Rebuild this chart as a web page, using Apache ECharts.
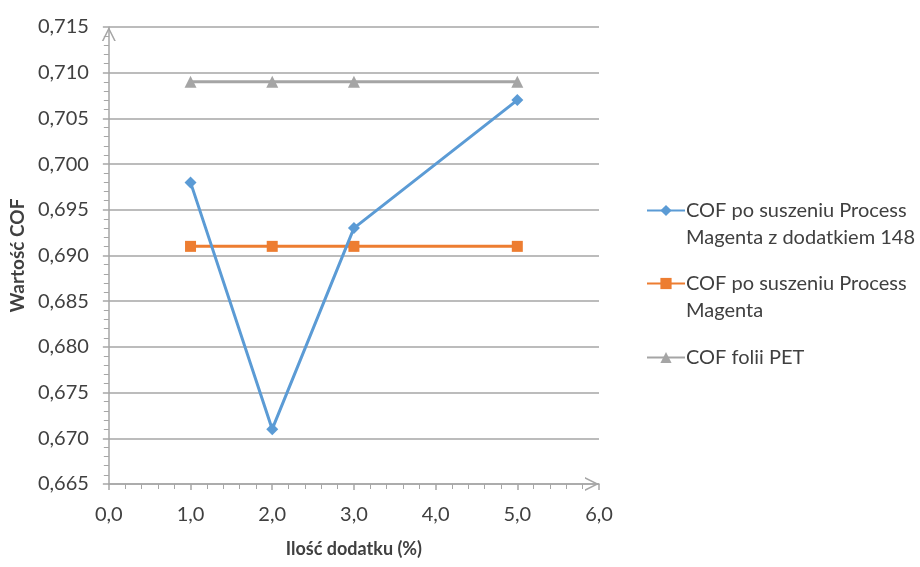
<!DOCTYPE html>
<html>
<head>
<meta charset="utf-8">
<script src="https://cdn.jsdelivr.net/npm/echarts@6/dist/echarts.min.js"></script>
<style>
  html, body { margin: 0; padding: 0; background: #fff; }
  #chart { width: 920px; height: 567px; }
</style>
</head>
<body>
<div id="chart"></div>
<script>
// Additive amount (%) at which COF was measured
const additive = [1, 2, 3, 5];

// COF values per series
const cofWithAdditive = [0.698, 0.671, 0.693, 0.707];
const cofProcessMagenta = [0.691, 0.691, 0.691, 0.691];
const cofPetFilm = [0.709, 0.709, 0.709, 0.709];

const seriesNames = [
  'COF po suszeniu Process Magenta z dodatkiem 148',
  'COF po suszeniu Process Magenta',
  'COF folii PET'
];
// Legend labels, broken over lines
const legendLabels = [
  ['COF po suszeniu Process', 'Magenta z dodatkiem 148'],
  ['COF po suszeniu Process', 'Magenta'],
  ['COF folii PET']
];

const FONT = 'Lato';
const AXIS_GREY = '#a6a6a6';
const TEXT = '#404040';
// open chevron pointing up; rotated by the axis
const chevron = 'path://M5,0 L10,10 L8.8,10 L5,2.4 L1.2,10 L0,10 Z';

const pair = (ys) => additive.map((x, i) => [x, ys[i]]);
const fmt = (v, d) => v.toFixed(d).replace('.', ',');

const colors = ['#5b9bd5', '#ed7d31', '#a5a5a5'];
const symbols = ['diamond', 'rect', 'triangle'];
const symbolSizes = [12, 11, 12];
const values = [cofWithAdditive, cofProcessMagenta, cofPetFilm];

// One legend per series; a blank leading line keeps the first text line level with the icon
function legendAt(i, top) {
  const lines = legendLabels[i];
  const text = lines.length > 1 ? '\n' + lines.join('\n') : lines[0];
  return {
    orient: 'vertical',
    left: 646,
    top: top,
    padding: 0,
    itemWidth: 38,
    itemHeight: 14,
    itemGap: 0,
    selectedMode: false,
    data: [{ name: seriesNames[i] }],
    formatter: () => text,
    textStyle: {
      fontFamily: FONT,
      fontSize: 20,
      color: TEXT,
      lineHeight: 27,
      padding: [0, 0, 0, -4]
    }
  };
}

const chart = echarts.init(document.getElementById('chart'));
chart.setOption({
  animation: false,
  color: colors,
  grid: { left: 107, right: 321, top: 27, bottom: 83, containLabel: false },
  legend: [legendAt(0, 170), legendAt(1, 243), legendAt(2, 344)],
  xAxis: {
    type: 'value',
    min: 0,
    max: 6,
    interval: 1,
    name: 'Ilość dodatku (%)',
    nameLocation: 'middle',
    nameGap: 56,
    nameTextStyle: { fontFamily: FONT, fontSize: 18, fontWeight: 'bold', color: TEXT },
    axisLine: {
      lineStyle: { color: AXIS_GREY, width: 1.5 },
      symbol: ['none', chevron],
      symbolSize: [14, 14],
      symbolOffset: [0, -7]
    },
    axisTick: { show: true, inside: false, length: 6, lineStyle: { color: AXIS_GREY, width: 1.5 } },
    minorTick: { show: true, splitNumber: 5, length: 5, lineStyle: { color: AXIS_GREY, width: 1 } },
    splitLine: { show: false },
    axisLabel: {
      fontFamily: FONT, fontSize: 20, color: TEXT, margin: 21,
      formatter: (v) => fmt(v, 1)
    }
  },
  yAxis: {
    type: 'value',
    min: 0.665,
    max: 0.715,
    interval: 0.005,
    name: 'Wartość COF',
    nameLocation: 'middle',
    nameGap: 78,
    nameRotate: 90,
    nameTextStyle: { fontFamily: FONT, fontSize: 19, fontWeight: 'bold', color: TEXT },
    axisLine: {
      show: true,
      lineStyle: { color: AXIS_GREY, width: 1.5 },
      symbol: ['none', chevron],
      symbolSize: [14, 14],
      symbolOffset: [0, -7]
    },
    axisTick: { show: true, inside: false, length: 6, lineStyle: { color: AXIS_GREY, width: 1.5 } },
    minorTick: { show: true, splitNumber: 5, length: 5, lineStyle: { color: AXIS_GREY, width: 1 } },
    splitLine: { show: true, lineStyle: { color: AXIS_GREY, width: 1.5 } },
    axisLabel: {
      fontFamily: FONT, fontSize: 20, color: TEXT, margin: 20,
      formatter: (v) => fmt(v, 3)
    }
  },
  series: seriesNames.map((name, i) => ({
    name: name,
    type: 'line',
    data: pair(values[i]),
    symbol: symbols[i],
    symbolSize: symbolSizes[i],
    showAllSymbol: true,
    lineStyle: { width: 3, color: colors[i] },
    itemStyle: { color: colors[i] },
    z: 3 - i
  }))
});
</script>
</body>
</html>
